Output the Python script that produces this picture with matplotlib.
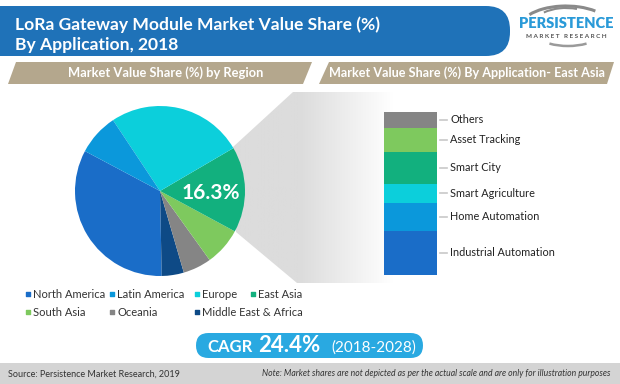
import numpy as np
import matplotlib
matplotlib.use("Agg")
import matplotlib.pyplot as plt
from matplotlib.patches import Polygon, FancyBboxPatch, Rectangle, Arc
from matplotlib.colors import LinearSegmentedColormap

plt.rcParams['font.family'] = ['Lato', 'DejaVu Sans']

# ---- data ----
regions = ['North America', 'Middle East & Africa', 'Oceania', 'South Asia',
           'East Asia', 'Europe', 'Latin America']
region_share = [33.1, 4.2, 5.4, 7.2, 16.3, 25.9, 7.9]
region_colors = ['#1a6dc8', '#0e4a86', '#858585', '#7ec95e',
                 '#12b07e', '#0ccfdb', '#0b98db']

apps = ['Industrial Automation', 'Home Automation', 'Smart Agriculture',
        'Smart City', 'Asset Tracking', 'Others']
app_share = [27.0, 17.2, 11.7, 19.6, 14.7, 9.8]
app_colors = ['#1a6dc8', '#0b98db', '#0ccfdb', '#12b07e', '#7ec95e', '#858585']

legend_order = ['North America', 'Latin America', 'Europe', 'East Asia',
                'South Asia', 'Oceania', 'Middle East & Africa']
legend_pos = [(28, 294), (112, 294), (197, 294), (253, 294),
              (28, 312), (112, 312), (197, 312)]

W, H = 620, 384
fig = plt.figure(figsize=(W / 100, H / 100), dpi=100)
fig.patch.set_facecolor('white')

bg = fig.add_axes([0, 0, 1, 1])
bg.set_xlim(0, W)
bg.set_ylim(H, 0)
bg.axis('off')

# header banner
bg.add_patch(FancyBboxPatch((-40, 6), 550, 50, boxstyle='round,pad=0,rounding_size=24',
                            fc='#1f72b8', ec='none'))
bg.text(15, 25, 'LoRa Gateway Module Market Value Share (%)', color='white',
        fontsize=12.6, fontweight='bold', va='center')
bg.text(15, 45, 'By Application, 2018', color='white',
        fontsize=12.6, fontweight='bold', va='center')

# logo
bg.text(566, 23, 'PERSISTENCE', color='#2a9ad8', fontsize=10.5, fontweight='heavy',
        ha='center', va='center')
bg.text(566, 37, 'M A R K E T   R E S E A R C H', color='#555555', fontsize=4.6,
        fontweight='bold', ha='center', va='center')
bg.add_patch(Arc((566, 28), 92, 44, theta1=200, theta2=330, color='#8a8a8a', lw=2.2))
bg.add_patch(Arc((566, 28), 70, 40, theta1=215, theta2=300, color='#8a8a8a', lw=1.5))
bg.add_patch(Arc((568, 28), 74, 36, theta1=40, theta2=140, color='#9a9a9a', lw=1.8))

# section headers
tan = '#b4a78d'
bg.add_patch(Polygon([(16, 62), (312, 62), (303, 84), (8, 84)], closed=True, fc=tan, ec='none'))
bg.add_patch(Polygon([(329, 62), (614, 62), (607, 84), (319, 84)], closed=True, fc=tan, ec='none'))
bg.text(166, 73, 'Market Value Share (%) by Region', color='white', fontsize=9.3,
        fontweight='bold', ha='center', va='center')
bg.text(467, 73, 'Market Value Share (%) By Application- East Asia', color='white',
        fontsize=9.1, fontweight='bold', ha='center', va='center')

# funnel with gradient
funnel = Polygon([(233, 147), (293, 92), (395, 92), (395, 283), (297, 283), (236, 232)],
                 closed=True, fc='none', ec='none')
bg.add_patch(funnel)
xs = np.linspace(230, 395, 200)
grad = np.clip((xs - 300) / 93.0, 0, 1)[None, :]
cmap = LinearSegmentedColormap.from_list('fade', ['#dcdcdc', '#ffffff'])
im = bg.imshow(grad, extent=(230, 395, 283, 92), cmap=cmap, aspect='auto', zorder=1)
im.set_clip_path(funnel)

# pie
cx, cy, r = 160, 191, 85
pie_ax = fig.add_axes([(cx - r) / W, (H - cy - r) / H, 2 * r / W, 2 * r / H])
pie_ax.pie(region_share, colors=region_colors, startangle=152, counterclock=True,
           wedgeprops=dict(linewidth=0))
pie_ax.set_xlim(-1, 1)
pie_ax.set_ylim(-1, 1)
pie_ax.set_aspect('equal')
pie_ax.axis('off')
pie_ax.text(0.60, -0.02, '16.3%', color='white', fontsize=15, fontweight='bold',
            ha='center', va='center')

# stacked bar
bx0, bx1, by0, by1 = 384, 437, 112, 275
bar_ax = fig.add_axes([bx0 / W, (H - by1) / H, (bx1 - bx0) / W, (by1 - by0) / H])
bottom = 0
for name, val, col in zip(apps, app_share, app_colors):
    bar_ax.bar(0, val, bottom=bottom, width=1.0, color=col, linewidth=0)
    mid = bottom + val / 2
    bar_ax.plot([1.06, 1.19], [mid, mid], color='#c8c8c8', lw=1.2, clip_on=False,
                transform=bar_ax.get_yaxis_transform())
    bar_ax.text(1.25, mid, name, fontsize=7.8, color='#222222', va='center',
                transform=bar_ax.get_yaxis_transform())
    bottom += val
bar_ax.set_xlim(-0.5, 0.5)
bar_ax.set_ylim(0, 100)
bar_ax.axis('off')

# legend
for name, (lx, ly) in zip(legend_order, legend_pos):
    col = region_colors[regions.index(name)]
    bg.scatter([lx], [ly], marker='s', s=12, color=col, zorder=3)
    bg.text(lx + 5, ly, name, fontsize=8, color='#333333', va='center')

# CAGR pill
bg.add_patch(FancyBboxPatch((196, 333), 227, 25, boxstyle='round,pad=0,rounding_size=12.5',
                            fc='#29a9e1', ec='none'))
bg.text(207, 352, 'CAGR', color='white', fontsize=12, fontweight='bold', va='baseline')
bg.text(258, 352, '24.4%', color='white', fontsize=16, fontweight='bold', va='baseline')
bg.text(331, 352, '(2018-2028)', color='white', fontsize=11, va='baseline')

# footer
bg.add_patch(Rectangle((0, 363), W, 21, fc='#d4d4d4', ec='none'))
bg.text(8, 374, 'Source: Persistence Market Research, 2019', fontsize=6.5,
        color='#333333', va='center')
bg.text(610, 374, 'Note: Market shares are not depicted as per the actual scale and are only for illustration purposes',
        fontsize=6.2, style='italic', color='#333333', va='center', ha='right')

fig.savefig('out.png', dpi=100)
